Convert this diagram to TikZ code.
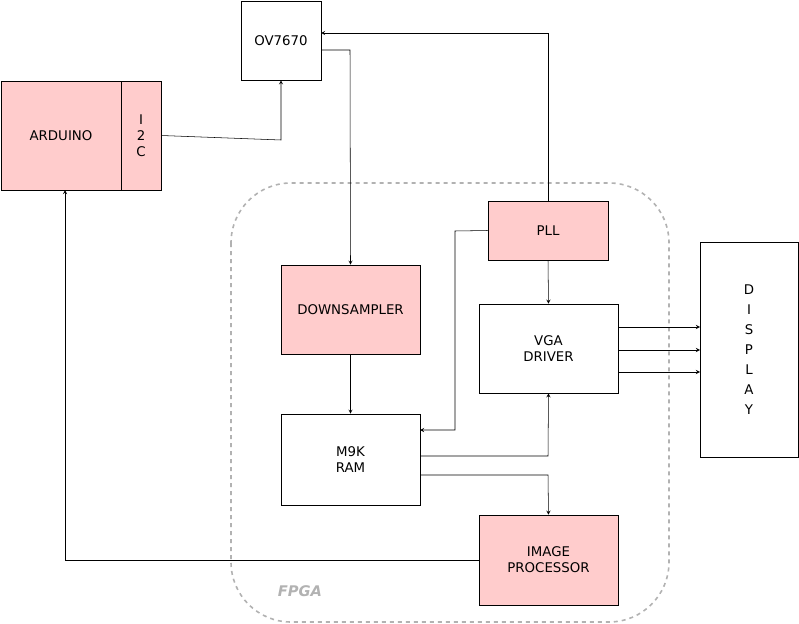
\documentclass[tikz,border=0pt]{standalone}
\usepackage{fontspec}
\setmainfont{DejaVu Sans}
\begin{document}
\begin{tikzpicture}[x=0.75pt,y=-0.75pt,
  box/.style={draw=black,fill=white,align=center,font=\fontsize{10}{12}\selectfont,inner sep=0pt},
  pink/.style={box,fill=red!20},
  arr/.style={->,>=stealth,black},
  every node/.style={font=\fontsize{10}{13}\selectfont}]
\useasboundingbox (0,0) rectangle (799,624);
\draw[gray!60,dashed,line width=1.2pt,rounded corners=45] (231,183) rectangle (669,622);
\node[text=gray!60,font=\bfseries\itshape\fontsize{11}{13}\selectfont] (fpga) at (300,591) {FPGA};
\node[box,minimum width=80*0.75pt,minimum height=79*0.75pt] (ov) at (281,40.5) {OV7670};
\node[pink,minimum width=120*0.75pt,minimum height=109*0.75pt] (ard) at (61,135.5) {ARDUINO};
\node[pink,minimum width=40*0.75pt,minimum height=109*0.75pt] (i2c) at (141,135.5) {I\\2\\C};
\node[pink,minimum width=120*0.75pt,minimum height=59*0.75pt] (pll) at (548,230.5) {PLL};
\node[pink,minimum width=139*0.75pt,minimum height=89*0.75pt] (ds) at (350.5,309.5) {DOWNSAMPLER};
\node[box,minimum width=139*0.75pt,minimum height=89*0.75pt] (vga) at (548.5,348.5) {VGA\\DRIVER};
\node[box,minimum width=139*0.75pt,minimum height=91*0.75pt] (ram) at (350.5,459.5) {M9K\\RAM};
\node[pink,minimum width=139*0.75pt,minimum height=90*0.75pt] (ip) at (548.5,560) {IMAGE\\PROCESSOR};
\node[box,minimum width=98*0.75pt,minimum height=215*0.75pt,font=\fontsize{10}{15}\selectfont] (disp) at (749,349.5) {D\\I\\S\\P\\L\\A\\Y};
\draw[arr] (i2c.east) -- (281,140) -- (ov.south);
\draw[arr] (321,50) -- (350,50) -- (ds.north);
\draw[arr] (pll.north) -- (548,33) -- (321,33);
\draw[arr] (pll.south) -- (vga.north);
\draw[arr] (pll.west) -- (455,231) -- (455,430) -- (420,430);
\draw[arr] (ds.south) -- (ram.north);
\draw[arr] (420,456) -- (548,456) -- (vga.south);
\draw[arr] (420,475) -- (548,475) -- (ip.north);
\draw[arr] (ip.west) -- (65,560) -- (65,190);
\draw[arr] (618,327) -- (700,327);
\draw[arr] (618,350) -- (700,350);
\draw[arr] (618,372) -- (700,372);
\end{tikzpicture}
\end{document}
